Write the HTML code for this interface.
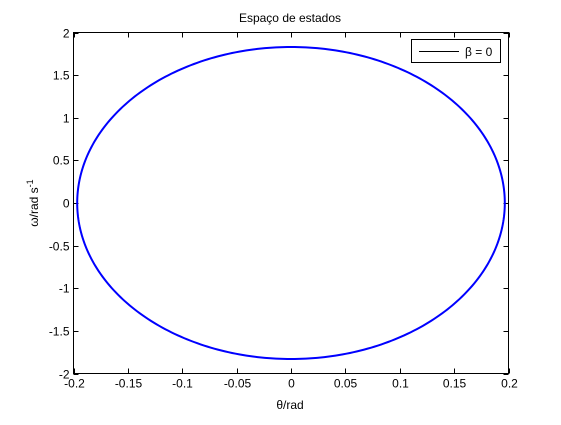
<!DOCTYPE html>
<html><head><meta charset="utf-8"><style>
body{margin:0;background:#fff;}
text{font-family:"Liberation Sans",sans-serif;font-size:12px;fill:#000;}
</style></head><body>
<svg id="chart" width="561" height="420" viewBox="0 0 561 420" xmlns="http://www.w3.org/2000/svg">
<rect width="561" height="420" fill="#fff"/>
<rect x="73.5" y="32.5" width="435" height="341" fill="#fff" stroke="#000" stroke-width="1"/>
<g id="ticks"></g>
<path id="curve" fill="none" stroke="#0000ff" stroke-width="2"/>
<text x="290" y="22" text-anchor="middle" font-size="12">Espaço de estados</text>
<text x="290" y="409" text-anchor="middle">θ/rad</text>
<text transform="translate(38,203) rotate(-90)" text-anchor="middle">ω/rad s<tspan dy="-5" font-size="9">-1</tspan></text>
<g>
<rect x="411.5" y="39.5" width="89" height="23" fill="#fff" stroke="#000"/>
<line x1="419" y1="51.5" x2="459" y2="51.5" stroke="#000" stroke-width="1"/>
<text x="465" y="56">β = 0</text>
</g>
</svg>
<script>
const xTicks=[-0.2,-0.15,-0.1,-0.05,0,0.05,0.1,0.15,0.2];
const xTickLabels=["-0.2","-0.15","-0.1","-0.05","0","0.05","0.1","0.15","0.2"];
const yTicks=[-2,-1.5,-1,-0.5,0,0.5,1,1.5,2];
const yTickLabels=["-2","-1.5","-1","-0.5","0","0.5","1","1.5","2"];
const thetaAmplitude=[0.1966];
const omegaAmplitude=[1.83];
const L=73.5,R=508.5,T=32.5,B=373.5;
const sx=v=>L+(v+0.2)/0.4*(R-L);
const sy=v=>B-(v+2)/4*(B-T);
const NS="http://www.w3.org/2000/svg";
const g=document.getElementById('ticks');
function mk(tag,attrs){const e=document.createElementNS(NS,tag);for(const k in attrs)e.setAttribute(k,attrs[k]);return e;}
xTicks.forEach((v,i)=>{const x=Math.round(sx(v))+0.5;
 const a=mk('line',{x1:x,y1:B,x2:x,y2:B-5,stroke:'#000'});g.appendChild(a);
 const b=mk('line',{x1:x,y1:T,x2:x,y2:T+5,stroke:'#000'});g.appendChild(b);
 const t=mk('text',{x:x,y:B+14,'text-anchor':'middle'});t.textContent=xTickLabels[i];g.appendChild(t);});
yTicks.forEach((v,i)=>{const y=Math.round(sy(v))+0.5;
 const a=mk('line',{x1:L,y1:y,x2:L+5,y2:y,stroke:'#000'});g.appendChild(a);
 const b=mk('line',{x1:R,y1:y,x2:R-5,y2:y,stroke:'#000'});g.appendChild(b);
 const t=mk('text',{x:L-4,y:y+4,'text-anchor':'end'});t.textContent=yTickLabels[i];g.appendChild(t);});
let d='';
for(let k=0;k<=360;k++){const a=k/360*2*Math.PI;
 const x=sx(thetaAmplitude[0]*Math.cos(a)),y=sy(omegaAmplitude[0]*Math.sin(a));
 d+=(k?'L':'M')+x.toFixed(2)+' '+y.toFixed(2);}
document.getElementById('curve').setAttribute('d',d+'Z');
</script>
</body></html>
